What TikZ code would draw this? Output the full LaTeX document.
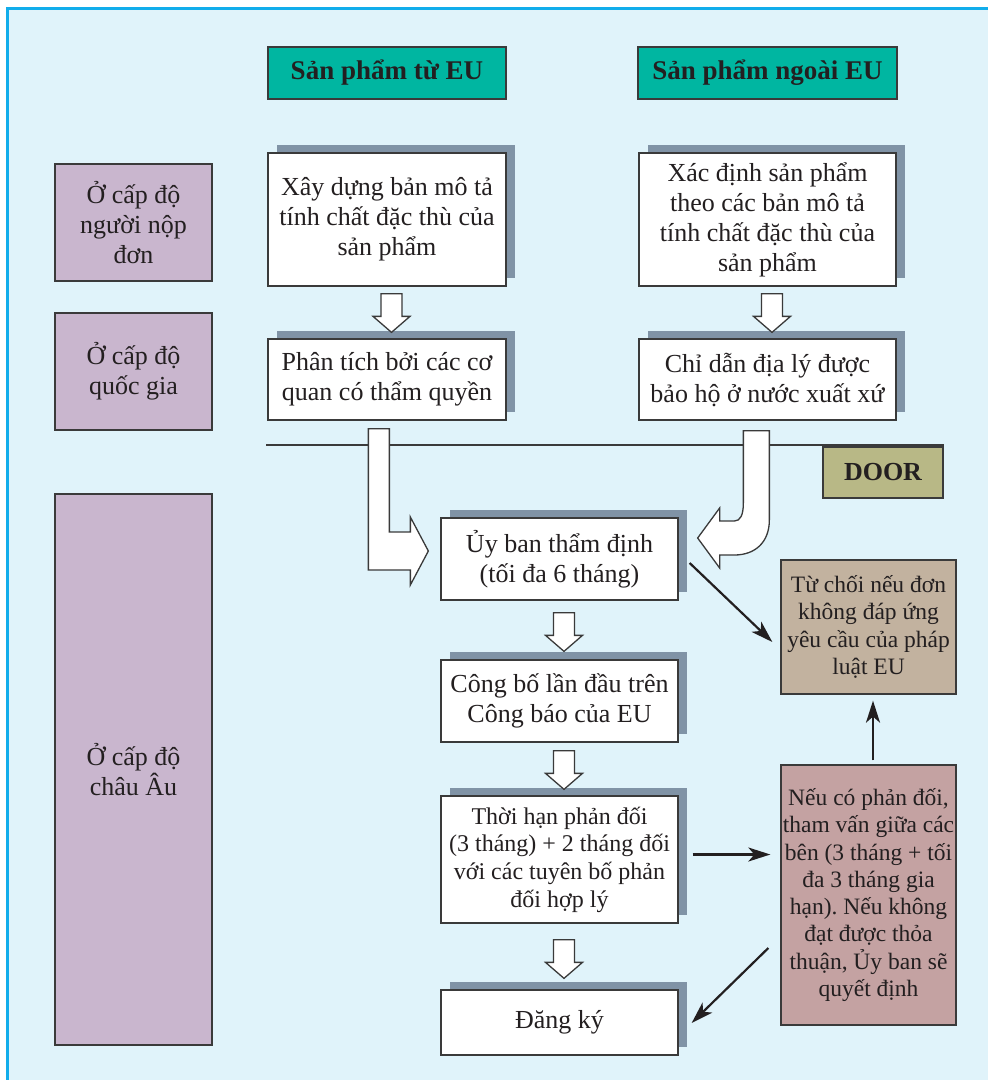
\documentclass[tikz,border=0pt]{standalone}
\usepackage{fontspec}
\setmainfont{Liberation Serif}
\usetikzlibrary{shadows,calc,arrows.meta}
\definecolor{bgc}{HTML}{E0F3FA}
\definecolor{framec}{HTML}{12ADEB}
\definecolor{tealc}{HTML}{00B6A1}
\definecolor{lvlc}{HTML}{C9B6CE}
\definecolor{shadc}{HTML}{8093A6}
\definecolor{doorc}{HTML}{B8B886}
\definecolor{rejc}{HTML}{C2B29F}
\definecolor{neuc}{HTML}{C4A2A2}
\definecolor{edgec}{HTML}{3A3A3A}
\definecolor{txtc}{HTML}{231F20}
\frenchspacing
\newcommand{\smalldown}[2]{%
  \draw[blockarrow] let \p1=(#1), \p2=(#2) in
    (\x1-10.5pt,\y1) -- (\x1+10.5pt,\y1) -- (\x1+10.5pt,\y2+16pt) -- (\x1+18.5pt,\y2+16pt)
    -- (\x1,\y2) -- (\x1-18.5pt,\y2+16pt) -- (\x1-10.5pt,\y2+16pt) -- cycle;}
\begin{document}
\begin{tikzpicture}[x=1pt,y=-1pt,
  base/.style={draw=edgec, line width=1.3pt, text=txtc, align=center, inner sep=0pt, anchor=center},
  headbox/.style={base, fill=tealc, font=\bfseries\fontsize{27}{30}\selectfont},
  lvlbox/.style={base, fill=lvlc, minimum width=157pt, font=\fontsize{26}{30}\selectfont},
  mainbox/.style={base, fill=white, font=\fontsize{26}{30}\selectfont,
    general shadow={shadow xshift=9pt, shadow yshift=8pt, fill=shadc}},
  sidebox/.style={base, minimum width=175pt, font=\fontsize{23.5}{27.3}\selectfont},
  conn/.style={draw=txtc, line width=2.2pt, -{Stealth[length=22pt,width=14pt,inset=6pt]}},
  blockarrow/.style={draw=edgec, line width=1.3pt, fill=white, line join=miter},
]
\useasboundingbox (0,0) rectangle (988,1080);
\fill[white] (0,0) rectangle (988,1080);
\fill[bgc] (7,8) rectangle (1000,1090);
\draw[framec, line width=3pt] (7,1090) -- (7,8) -- (1000,8);

% headers
\node[headbox, minimum width=238pt, minimum height=52pt] (h1) at (387,73) {Sản phẩm từ EU};
\node[headbox, minimum width=259pt, minimum height=52pt] (h2) at (767.5,73) {Sản phẩm ngoài EU};

% level labels
\node[lvlbox, minimum height=117pt] (L1) at (133.5,222.5) {Ở cấp độ\\người nộp\\đơn};
\node[lvlbox, minimum height=117pt] (L2) at (133.5,371.5) {Ở cấp độ\\quốc gia};
\node[lvlbox, minimum height=551pt] (L3) at (133.5,769.5) {Ở cấp độ\\châu Âu};

% upper boxes
\node[mainbox, minimum width=238pt, minimum height=133pt] (b1) at (387,219.5) {Xây dựng bản mô tả\\tính chất đặc thù của\\sản phẩm};
\node[mainbox, minimum width=257pt, minimum height=133pt] (b2) at (767.5,219.5) {Xác định sản phẩm\\theo các bản mô tả\\tính chất đặc thù của\\sản phẩm};
\node[mainbox, minimum width=238pt, minimum height=81pt] (b3) at (387,379.5) {Phân tích bởi các cơ\\quan có thẩm quyền};
\node[mainbox, minimum width=257pt, minimum height=81pt] (b4) at (767.5,379.5) {Chỉ dẫn địa lý được\\bảo hộ ở nước xuất xứ};

% door line and label
\node[base, fill=doorc, minimum width=120pt, minimum height=51pt, font=\bfseries\fontsize{26}{30}\selectfont] (door) at (883,472.5) {DOOR};
\coordinate (lineL) at (266,445);
\coordinate (lineR) at (door.north east |- lineL);
\draw[edgec, line width=2.2pt] (lineL) -- (lineR);

% European level chain
\node[mainbox, minimum width=237pt, minimum height=82pt] (uy) at (559.5,559) {Ủy ban thẩm định\\(tối đa 6 tháng)};
\node[mainbox, minimum width=237pt, minimum height=82pt] (cb) at (559.5,701) {Công bố lần đầu trên\\Công báo của EU};
\node[mainbox, minimum width=237pt, minimum height=127pt, font=\fontsize{24}{27.7}\selectfont] (th) at (559.5,859.5) {Thời hạn phản đối\\(3 tháng) + 2 tháng đối\\với các tuyên bố phản\\đối hợp lý};
\node[mainbox, minimum width=237pt, minimum height=65pt] (dk) at (559.5,1022.5) {Đăng ký};

\node[sidebox, fill=rejc, minimum height=134pt] (rej) at (868.5,627) {Từ chối nếu đơn\\không đáp ứng\\yêu cầu của pháp\\luật EU};
\node[sidebox, fill=neuc, minimum height=260pt] (neu) at (868.5,895) {Nếu có phản đối,\\tham vấn giữa các\\bên (3 tháng + tối\\đa 3 tháng gia\\hạn). Nếu không\\đạt được thỏa\\thuận, Ủy ban sẽ\\quyết định};

% small block arrows
\smalldown{$(b1.south)+(4.5,7)$}{$(b3.north)+(4.5,-6)$}
\smalldown{$(b2.south)+(4.5,7)$}{$(b4.north)+(4.5,-6)$}
\smalldown{$(uy.south)+(4.5,12)$}{$(cb.north)+(4.5,-8)$}
\smalldown{$(cb.south)+(4.5,8)$}{$(th.north)+(4.5,-6)$}
\smalldown{$(th.south)+(4.5,16)$}{$(dk.north)+(4.5,-11)$}

% bent block arrow (left)
\draw[blockarrow] let \p1=($(b3.south west)+(101,8)$), \p2=($(uy.west)+(-12,-8)$) in
  (\x1,\y1) -- (\x1+21pt,\y1) -- (\x1+21pt,\y2+19pt) -- (\x2-18pt,\y2+19pt) -- (\x2-18pt,\y2+34pt)
  -- (\x2,\y2) -- (\x2-18pt,\y2-34pt) -- (\x2-18pt,\y2-19pt) -- (\x1,\y2-19pt) -- cycle;

% curved block arrow (right)
\draw[blockarrow] let \p1=($(b4.south west)+(105,10)$), \p2=($(uy.east)+(19,-21)$) in
  (\x1,\y1) -- (\x1+26pt,\y1) -- (\x1+26pt,\y2+18pt)
  .. controls (\x1+26pt,\y2-4pt) and (\x1+12pt,\y2-17pt) .. (\x1-9pt,\y2-17pt)
  -- (\x2+22pt,\y2-17pt) -- (\x2+22pt,\y2-30pt) -- (\x2,\y2) -- (\x2+22pt,\y2+30pt)
  -- (\x2+22pt,\y2+17pt) -- (\x1-9pt,\y2+17pt)
  .. controls (\x1-3pt,\y2+17pt) and (\x1,\y2+23pt) .. (\x1,\y2+35pt) -- cycle;

% connectors
\draw[conn] ($(uy.east)+(11,4)$) -- ($(rej.west)+(-8,15)$);
\draw[conn] ($(th.east)+(14,-5)$) -- ($(neu.west|-th.east)+(-10,-5)$);
\draw[conn] ($(neu.north)+(4.5,-4)$) -- ($(rej.south)+(4.5,6)$);
\draw[conn] ($(neu.west)+(-12,53)$) -- ($(dk.east)+(13,0.5)$);
\end{tikzpicture}
\end{document}
